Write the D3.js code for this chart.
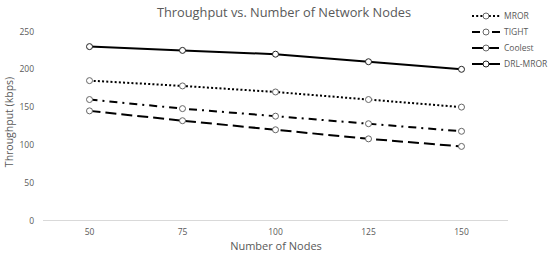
<!DOCTYPE html>
<html>
<head>
<meta charset="utf-8">
<script src="https://cdn.jsdelivr.net/npm/d3@7"></script>
<style>
  body { margin: 0; background: #fff; }
  svg { display: block; font-family: "Open Sans", "Noto Sans", sans-serif; }
</style>
</head>
<body>
<svg id="chart" width="550" height="256"></svg>
<script>
// data
const nodes = ['50', '75', '100', '125', '150'];
const yTicks = [0, 50, 100, 150, 200, 250];
const seriesNames = ['MROR', 'TIGHT', 'Coolest', 'DRL-MROR'];
const mror = [185, 178, 170, 160, 150];
const tight = [160, 148, 138, 128, 118];
const coolest = [145, 132, 120, 108, 98];
const drlMror = [230, 225, 220, 210, 200];

const dashes = { 'MROR': '2,2.2', 'TIGHT': '8,5,2,5', 'Coolest': '11,5', 'DRL-MROR': null };
const series = [
  { name: 'MROR', values: mror },
  { name: 'TIGHT', values: tight },
  { name: 'Coolest', values: coolest },
  { name: 'DRL-MROR', values: drlMror }
];

const svg = d3.select('#chart');
const plot = { left: 43, right: 508, top: 31.5, bottom: 220.5 };

const x = d3.scaleBand(nodes, [plot.left, plot.right]);
const y = d3.scaleLinear([0, 250], [plot.bottom, plot.top]);
const cx = d => x(d) + x.bandwidth() / 2;

// title
svg.append('text')
  .attr('x', 284).attr('y', 17)
  .attr('text-anchor', 'middle')
  .attr('font-size', 12.8)
  .attr('fill', '#595959')
  .text('Throughput vs. Number of Network Nodes');

// y axis labels
svg.append('g').selectAll('text')
  .data(yTicks)
  .join('text')
  .attr('x', 34).attr('y', d => y(d) + 3)
  .attr('text-anchor', 'end')
  .attr('font-size', 8.5)
  .attr('fill', '#595959')
  .text(d => d);

// baseline
svg.append('line')
  .attr('x1', plot.left).attr('x2', plot.right)
  .attr('y1', y(0)).attr('y2', y(0))
  .attr('stroke', '#d9d9d9').attr('stroke-width', 1);

// x axis labels
svg.append('g').selectAll('text')
  .data(nodes)
  .join('text')
  .attr('x', d => cx(d)).attr('y', 235)
  .attr('text-anchor', 'middle')
  .attr('font-size', 8.5)
  .attr('fill', '#595959')
  .text(d => d);

// axis titles
svg.append('text')
  .attr('x', 276).attr('y', 250)
  .attr('text-anchor', 'middle')
  .attr('font-size', 11)
  .attr('fill', '#595959')
  .text('Number of Nodes');

svg.append('text')
  .attr('transform', 'translate(13,122) rotate(-90)')
  .attr('text-anchor', 'middle')
  .attr('font-size', 10.5)
  .attr('fill', '#595959')
  .text('Throughput (kbps)');

// lines
const line = d3.line()
  .x((d, i) => cx(nodes[i]))
  .y(d => y(d));

const groups = svg.append('g').selectAll('g')
  .data(series)
  .join('g');

groups.append('path')
  .attr('d', d => line(d.values))
  .attr('fill', 'none')
  .attr('stroke', '#000')
  .attr('stroke-width', 2)
  .attr('stroke-dasharray', d => dashes[d.name]);

groups.selectAll('circle')
  .data(d => d.values.map((v, i) => ({ v, i, name: d.name })))
  .join('circle')
  .attr('cx', d => cx(nodes[d.i]))
  .attr('cy', d => y(d.v))
  .attr('r', 3)
  .attr('fill', '#fff')
  .attr('stroke', d => d.name === 'DRL-MROR' ? '#222' : '#666')
  .attr('stroke-width', 1);

// legend
const legend = svg.append('g').selectAll('g')
  .data(seriesNames)
  .join('g')
  .attr('transform', (d, i) => `translate(472,${16 + i * 16})`);

legend.append('line')
  .attr('x1', 0).attr('x2', 28)
  .attr('stroke', '#000').attr('stroke-width', 2)
  .attr('stroke-dasharray', d => dashes[d]);

legend.append('circle')
  .attr('cx', 14).attr('r', 3)
  .attr('fill', '#fff')
  .attr('stroke', d => d === 'DRL-MROR' ? '#222' : '#666');

legend.append('text')
  .attr('x', 32).attr('y', 3)
  .attr('font-size', 8.5)
  .attr('fill', '#595959')
  .text(d => d);
</script>
</body>
</html>
